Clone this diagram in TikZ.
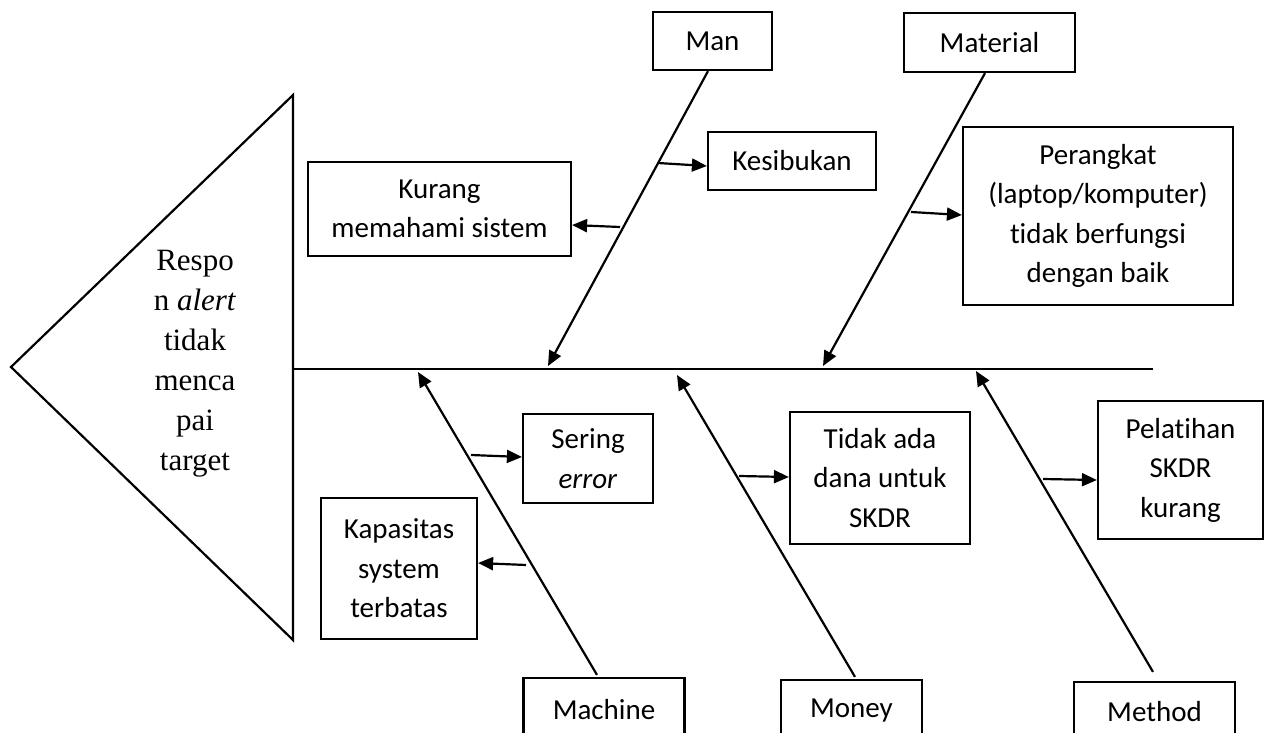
\documentclass[tikz,border=0pt]{standalone}
\usepackage{fontspec}
\setmainfont{Carlito}[RawFeature={-liga;-clig;-calt;-dlig}]
\newfontfamily\tnr{Liberation Serif}
\usetikzlibrary{arrows.meta,calc}
\begin{document}
\begin{tikzpicture}[x=1pt,y=-1pt,
  box/.style={draw, line width=2.2pt, align=center, inner sep=0pt,
    font={\fontsize{29}{39.5}\selectfont}},
  bone/.style={line width=2.2pt, -{Triangle[length=15pt,width=13pt]}},
  sub/.style={line width=2.2pt, -{Triangle[length=15pt,width=13pt]}},
  spine/.style={line width=1.4pt},
  headline/.style={line width=2.2pt, line join=miter}]
\useasboundingbox (0,0) rectangle (1267,733);
\clip (0,0) rectangle (1267,733);

% head triangle
\coordinate (tL) at (11,367);
\coordinate (tT) at (293,95);
\coordinate (tB) at (293,640);
\draw[headline] (tL) -- (tT) -- (tB) -- cycle;
\node[font={\tnr\fontsize{31}{40}\selectfont}, align=center, inner sep=0pt] (head) at (195,364)
  {Respo\\n \textit{alert}\\tidak\\menca\\pai\\target};

% spine
\coordinate (spL) at (293,369);
\coordinate (spR) at (1153,369);
\draw[spine] (spL) -- (spR);

% category boxes
\node[box, minimum width=119, minimum height=58] (man) at (712.5,41) {Man};
\node[box, minimum width=171, minimum height=59] (mat) at (989.5,42.5) {Material};
\node[box, minimum width=161, minimum height=64] (mac) at (604,710) {Machine};
\node[box, minimum width=141, minimum height=62] (mon) at (851.5,711) {Money};
\node[box, minimum width=161, minimum height=60] (met) at (1154.5,712) {Method};

% cause boxes
\node[box, minimum width=168, minimum height=58] (kes) at (792,161) {Kesibukan};
\node[box, minimum width=263, minimum height=94] (kur) at (439.5,209) {Kurang\\memahami sistem};
\node[box, minimum width=270, minimum height=178] (per) at (1098,216) {Perangkat\\(laptop/komputer)\\tidak berfungsi\\dengan baik};
\node[box, minimum width=130, minimum height=89] (ser) at (588,458.5) {Sering\\\textit{error}};
\node[box, minimum width=156, minimum height=141] (kap) at (399,568.5) {Kapasitas\\system\\terbatas};
\node[box, minimum width=180, minimum height=132] (tid) at (880,478) {Tidak ada\\dana untuk\\SKDR};
\node[box, minimum width=165, minimum height=138] (pel) at (1180.5,470) {Pelatihan\\SKDR\\kurang};

% bone tips on the spine
\coordinate (manTip) at (548,366);
\coordinate (matTip) at (823,366);
\coordinate (macTip) at (418,372);
\coordinate (monTip) at (677,375);
\coordinate (metTip) at (976,371);

\draw[bone] ($(man.south)+(-4.5,0)$) -- (manTip);
\draw[bone] ($(mat.south)+(-4.5,0)$) -- (matTip);
\draw[bone] ($(mac.north)+(-7,-2)$) -- (macTip);
\draw[bone] ($(mon.north)+(3.5,-2)$) -- (monTip);
\draw[bone] ($(met.north)+(-1.5,-9)$) -- (metTip);

% sub-cause arrows
\coordinate (s1) at (658,163);
\coordinate (s2) at (620,227);
\coordinate (s3) at (911,212);
\coordinate (s4) at (471,455);
\coordinate (s5) at (526,565);
\coordinate (s6) at (739,476);
\coordinate (s7) at (1043,479);
\draw[sub] (s1) -- ($(kes.west)+(0,5)$);
\draw[sub] (s2) -- ($(kur.east)+(0,16)$);
\draw[sub] (s3) -- ($(per.west)+(0,-1)$);
\draw[sub] (s4) -- ($(ser.west)+(0,-1.5)$);
\draw[sub] (s5) -- ($(kap.east)+(0,-5.5)$);
\draw[sub] (s6) -- ($(tid.west)+(0,-1)$);
\draw[sub] (s7) -- ($(pel.west)+(0,10)$);
\end{tikzpicture}
\end{document}
